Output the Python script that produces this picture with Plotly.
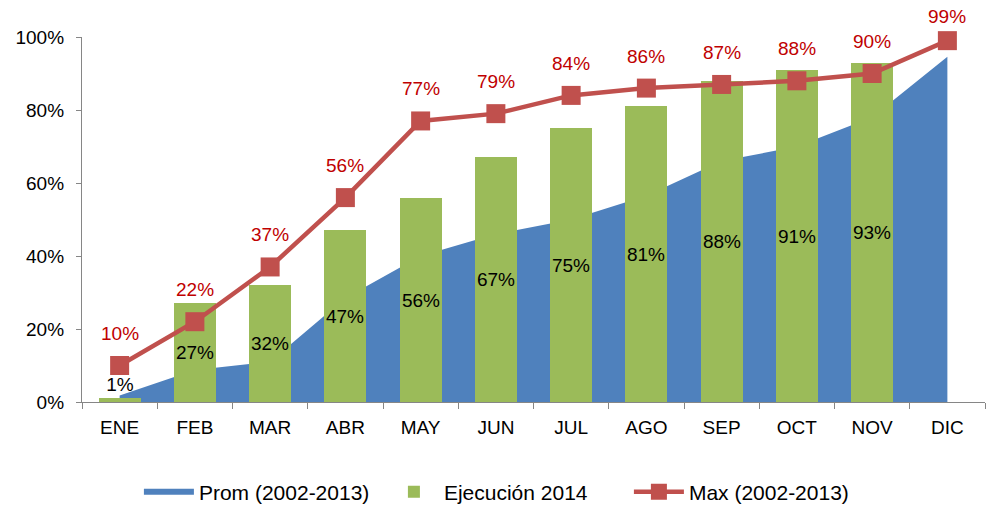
import plotly.graph_objects as go

# data (percent)
meses = ["ENE", "FEB", "MAR", "ABR", "MAY", "JUN", "JUL", "AGO", "SEP", "OCT", "NOV", "DIC"]
prom_2002_2013 = [1.8, 8.8, 11, 28.5, 40, 46, 50, 56.5, 66, 70, 78, 94.6]
ejecucion_2014 = [1, 27, 32, 47, 56, 67, 75, 81, 88, 91, 93]
max_2002_2013 = [10, 22, 37, 56, 77, 79, 84, 86, 87, 88, 90, 99]
ticks_y = [0, 20, 40, 60, 80, 100]

AZUL = "#4F81BD"
VERDE = "#9BBB59"
ROJO = "#C0504D"
ROJO_TXT = "#C00000"
GRIS = "#868686"
FUENTE = "Arial, Liberation Sans, sans-serif"

fig = go.Figure()

# area sits on the main axes so the bars (on y2) draw above it
fig.add_trace(go.Scatter(
    x=meses, y=prom_2002_2013, name="Prom (2002-2013)",
    mode="none", fill="tozeroy", fillcolor=AZUL,
))

# tiny bars get their label on top instead of squeezed inside
fig.add_trace(go.Bar(
    x=meses[:len(ejecucion_2014)], y=ejecucion_2014, name="Ejecución 2014",
    yaxis="y2", marker=dict(color=VERDE, line=dict(width=0)), width=0.56,
    text=[f"{v}%" for v in ejecucion_2014],
    textposition=["outside" if v < 5 else "inside" for v in ejecucion_2014],
    textangle=0, insidetextanchor="middle", constraintext="none", cliponaxis=False,
    textfont=dict(color="black", size=19, family=FUENTE),
))

fig.add_trace(go.Scatter(
    x=meses, y=max_2002_2013, name="Max (2002-2013)", yaxis="y2",
    mode="lines+markers", cliponaxis=False,
    line=dict(color=ROJO, width=4.5),
    marker=dict(symbol="square", size=19, color=ROJO),
))

# red labels above the markers; the top one is nudged down to stay in view
for m, v in zip(meses, max_2002_2013):
    fig.add_annotation(x=m, y=v, yref="y2", text=f"{v}%", showarrow=False,
                       yshift=32 if v < 95 else 24,
                       font=dict(color=ROJO_TXT, size=19, family=FUENTE))

eje_y = dict(range=[0, 100], tickmode="array", tickvals=ticks_y,
             ticktext=[f"{t}%" for t in ticks_y])

fig.update_layout(
    width=986, height=506,
    margin=dict(l=82, r=1, t=37, b=104, autoexpand=False),
    paper_bgcolor="white", plot_bgcolor="white",
    font=dict(family=FUENTE, size=19, color="black"),
    bargap=0,
    xaxis=dict(type="category", range=[-0.5, 11.5], showline=True, linecolor=GRIS,
               linewidth=1.3, ticks="outside", tickson="boundaries", ticklen=6,
               tickcolor=GRIS, showgrid=False, zeroline=False, automargin=False,
               ticklabelstandoff=8),
    yaxis=dict(**eje_y, showline=True, linecolor=GRIS, linewidth=1.3,
               ticks="outside", ticklen=5, tickcolor=GRIS, showgrid=False,
               zeroline=False, automargin=False, ticklabelstandoff=8),
    yaxis2=dict(**eje_y, overlaying="y", visible=False),
    showlegend=True,
    legend=dict(orientation="h", x=0.47, xanchor="center", y=-0.247,
                yanchor="middle", font=dict(size=21), itemwidth=50,
                entrywidth=180),
)

# drop the page's default body margin so the figure sits at the window corner
fig.write_html("out.html", config={"displayModeBar": False},
               post_script="document.body.style.margin='0';")
